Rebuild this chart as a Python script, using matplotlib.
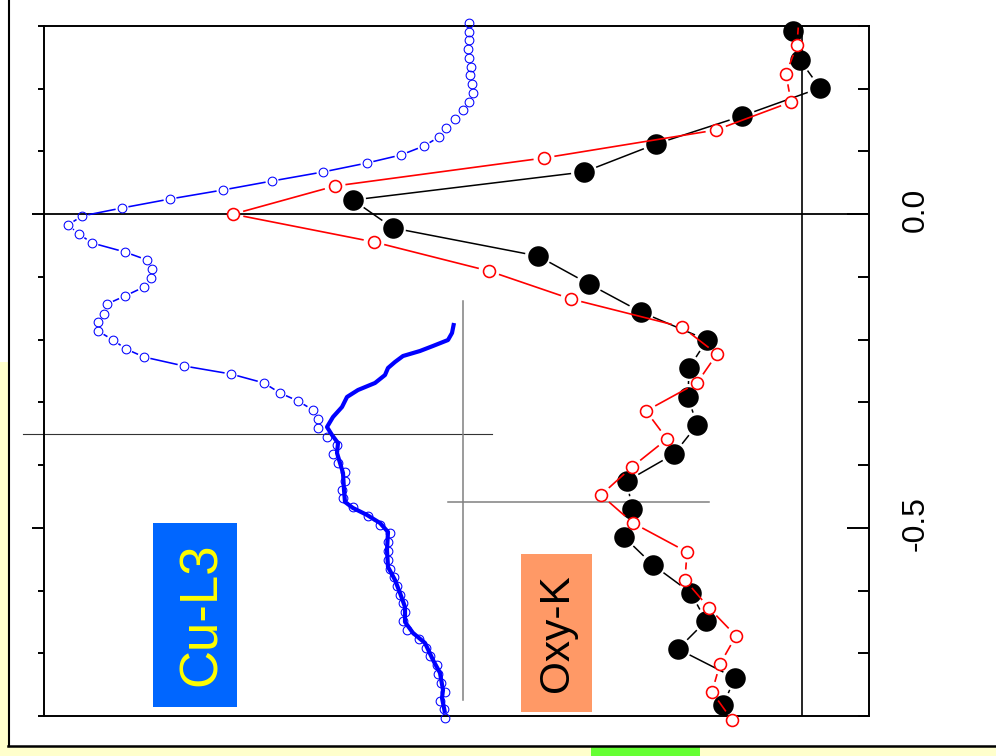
import numpy as np
import matplotlib
matplotlib.use("Agg")
import matplotlib.pyplot as plt
from matplotlib.patches import Rectangle
from matplotlib.lines import Line2D
from matplotlib.collections import LineCollection
import matplotlib.transforms as mtransforms

plt.rcParams['font.family'] = ['Liberation Sans', 'DejaVu Sans']

# ---- Cu-L3 spectrum (open circles): energy (eV) and intensity (a.u.)
cu_dots_e = [0.305, 0.2904, 0.2777, 0.2633, 0.2490, 0.2346, 0.2219, 0.2075, 0.1932, 0.1788,
             0.1661, 0.1517, 0.1374, 0.1231, 0.1087, 0.0944, 0.0816, 0.0673, 0.0529, 0.0386,
             0.0242, 0.0099, -0.0029, -0.0172, -0.0316, -0.0459, -0.0603, -0.0730, -0.0874, -0.1017,
             -0.1161, -0.1304, -0.1432, -0.1591, -0.1719, -0.1862, -0.2006, -0.2149, -0.2277, -0.2420,
             -0.2548, -0.2691, -0.2851, -0.2978, -0.3122, -0.3265, -0.3408, -0.3552, -0.3679, -0.3823,
             -0.3966, -0.4110, -0.4253, -0.4397, -0.4524, -0.4668, -0.4811, -0.4955, -0.5082, -0.5226,
             -0.5369, -0.5513, -0.5656, -0.5784, -0.5927, -0.6071, -0.6198, -0.6342, -0.6485, -0.6629,
             -0.6772, -0.6916, -0.7043, -0.7187, -0.7330, -0.7474, -0.7617, -0.7761, -0.7888, -0.8031]
cu_dots_i = [425, 425, 425, 424, 425, 427, 426, 428, 429, 425,
             419, 411, 402, 395, 380, 357, 323, 279, 228, 179,
             126, 78, 38, 24, 35, 48, 81, 103, 108, 107,
             100, 81, 63, 60, 54, 54, 69, 82, 100, 140,
             187, 220, 236, 254, 269, 274, 274, 283, 293, 289,
             294, 301, 301, 298, 299, 309, 324, 336, 346, 344,
             344, 344, 346, 350, 353, 356, 359, 361, 359, 363,
             375, 382, 386, 393, 394, 397, 401, 396, 400, 401]

# ---- Cu-L3 reference curve (thick line)
cu_line_e = [-0.1735, -0.1894, -0.2006, -0.2101, -0.2181, -0.2261, -0.2356, -0.2452, -0.2564, -0.2691,
             -0.2803, -0.2914, -0.3074, -0.3233, -0.3393, -0.3520, -0.3648, -0.3807, -0.3966, -0.4126,
             -0.4397, -0.4588, -0.4684, -0.4795, -0.4923, -0.5066, -0.5353, -0.5624, -0.5831, -0.6039,
             -0.6262, -0.6501, -0.6676, -0.6836, -0.7107, -0.7314, -0.7585, -0.7713, -0.7952]
cu_line_i = [410, 408, 404, 389, 376, 359, 351, 344, 341, 331,
             314, 303, 298, 289, 283, 288, 294, 293, 296, 299,
             300, 301, 309, 323, 336, 344, 343, 344, 351, 356,
             361, 361, 369, 381, 389, 396, 399, 398, 401]

# ---- Oxy-K spectra: filled (black) and open (red)
oxy_a_e = [0.2920, 0.2458, 0.2012, 0.1565, 0.1119, 0.0673, 0.0226, -0.0220, -0.0667, -0.1113,
           -0.1559, -0.2006, -0.2452, -0.2914, -0.3361, -0.3823, -0.4253, -0.4700, -0.5146, -0.5592,
           -0.6039, -0.6485, -0.6932, -0.7394, -0.7824]
oxy_a_i = [749, 756, 776, 698, 612, 540, 309, 349, 494, 545,
           597, 663, 645, 644, 653, 630, 583, 588, 580, 609,
           647, 662, 634, 691, 679]

oxy_b_e = [0.3143, 0.2697, 0.2235, 0.1788, 0.1342, 0.0896, 0.0449, 0.0, -0.0443, -0.0906,
           -0.1352, -0.1798, -0.2229, -0.2691, -0.3137, -0.3584, -0.4030, -0.4477, -0.4923, -0.5385,
           -0.5831, -0.6278, -0.6724, -0.7171, -0.7617, -0.8063]
oxy_b_i = [755, 753, 742, 747, 672, 500, 291, 189, 330, 445,
           527, 638, 673, 653, 602, 623, 588, 557, 589, 643,
           641, 665, 692, 676, 668, 688]

ytick_major = [0.0, -0.5]
ytick_labels = ["0.0", "-0.5"]
ytick_minor = [0.3, 0.2, 0.1, -0.1, -0.2, -0.3, -0.4, -0.6, -0.7, -0.8]

W, H = 996, 756
fig = plt.figure(figsize=(W / 100, H / 100), dpi=100)
fig.patch.set_facecolor('white')

# page decorations around the panel
pale = '#FFFFCC'
fig.add_artist(Rectangle((0, 0), 8 / W, (H - 362) / H, transform=fig.transFigure,
                         facecolor=pale, edgecolor='none', zorder=0))
fig.add_artist(Rectangle((0, 0), 1, 10 / H, transform=fig.transFigure,
                         facecolor=pale, edgecolor='none', zorder=0))
fig.add_artist(Rectangle((591 / W, 0), 109 / W, 9 / H, transform=fig.transFigure,
                         facecolor='#66FF33', edgecolor='none', zorder=1))
fig.add_artist(Line2D([9 / W, 9 / W], [10.5 / H, 1], transform=fig.transFigure,
                      color='black', lw=1.5, zorder=2))
fig.add_artist(Line2D([8 / W, 1], [10.5 / H, 10.5 / H], transform=fig.transFigure,
                      color='black', lw=1.8, zorder=2))

ax = fig.add_axes([44 / W, 1 - 716 / H, 825 / W, 690 / H])
ax.set_xlim(0, 825)
ax.set_ylim(-0.8, 0.3)
ax.set_xticks([])
for s in ax.spines.values():
    s.set_linewidth(1.4)

ax.set_yticks(ytick_major)
ax.set_yticks(ytick_minor, minor=True)
ax.tick_params(axis='y', which='both', direction='out', left=True, right=False,
               labelleft=False, width=1.4)
ax.tick_params(axis='y', which='major', length=8.8)
ax.tick_params(axis='y', which='minor', length=4.4)

ax2 = ax.twinx()
ax2.set_ylim(ax.get_ylim())
for s in ax2.spines.values():
    s.set_visible(False)
ax2.set_yticks(ytick_major)
ax2.set_yticks(ytick_minor, minor=True)
ax2.tick_params(axis='y', which='both', direction='in', right=True, left=False,
                labelright=False, width=1.4)
ax2.tick_params(axis='y', which='major', length=15.8)
ax2.tick_params(axis='y', which='minor', length=7.9)

lab_off = mtransforms.ScaledTranslation(46.4 / 100, 4.5 / 100, fig.dpi_scale_trans)
for v, s in zip(ytick_major, ytick_labels):
    ax.text(1, v, s, transform=ax.get_yaxis_transform() + lab_off, rotation=90,
            ha='center', va='center', fontsize=23, clip_on=False)

# reference lines
ax.axhline(0.0, color='black', lw=1.3, zorder=1)
ax.axvline(758, color='black', lw=1.2, zorder=1)
ax.plot([-21, 448], [-0.3504, -0.3504], color='#333333', lw=0.8, clip_on=False, zorder=1)
ax.plot([419, 419], [-0.1384, -0.7745], color='#808080', lw=1.1, zorder=1)
ax.plot([404, 665], [-0.4588, -0.4588], color='#808080', lw=1.1, zorder=1)


def gapped(x, y, gap):
    """Segments between consecutive points, trimmed by `gap` pixels at each end."""
    pts = ax.transData.transform(np.column_stack([x, y]))
    inv = ax.transData.inverted()
    segs = []
    for p, q in zip(pts[:-1], pts[1:]):
        d = q - p
        L = np.hypot(d[0], d[1])
        if L <= 2 * gap:
            continue
        u = d / L
        segs.append(inv.transform(np.array([p + u * gap, q - u * gap])))
    return segs


# Cu-L3 open circles
ax.add_collection(LineCollection(gapped(cu_dots_i, cu_dots_e, 6.5), colors='#0000FF',
                                 linewidths=1.15, zorder=3, clip_on=False))
ax.plot(cu_dots_i, cu_dots_e, ls='none', marker='o', ms=6.3, mew=0.75, mfc='none',
        mec='#0000FF', zorder=4, clip_on=False)
# Cu-L3 thick curve
ax.plot(cu_line_i, cu_line_e, color='#0000FF', lw=3.0, solid_joinstyle='round',
        solid_capstyle='butt', zorder=5, clip_on=False)

# Oxy-K filled
ax.add_collection(LineCollection(gapped(oxy_a_i, oxy_a_e, 13.0), colors='black',
                                 linewidths=1.1, zorder=6))
ax.plot(oxy_a_i, oxy_a_e, ls='none', marker='o', ms=14.8, mew=0, mfc='black',
        zorder=7, clip_on=False)

# Oxy-K open
ax.add_collection(LineCollection(gapped(oxy_b_i, oxy_b_e, 10.5), colors='#FF0000',
                                 linewidths=1.2, zorder=8))
ax.plot(oxy_b_i[1:], oxy_b_e[1:], ls='none', marker='o', ms=8.6, mew=1.15, mfc='white',
        mec='#FF0000', zorder=9, clip_on=False)

# labels
ax.add_patch(Rectangle((109, -0.7856), 84, 0.2933, facecolor='#0066FF', edgecolor='none', zorder=2))
ax.text(157.6, -0.6374, 'Cu-L3', rotation=90, ha='center', va='center', fontsize=38,
        color='#FFFF00', zorder=3)
ax.add_patch(Rectangle((477, -0.7936), 71, 0.2519, facecolor='#FF9966', edgecolor='none', zorder=2))
ax.text(513, -0.6676, 'Oxy-K', rotation=90, ha='center', va='center', fontsize=30.5,
        color='black', zorder=3)

fig.savefig('out.png', dpi=100)
